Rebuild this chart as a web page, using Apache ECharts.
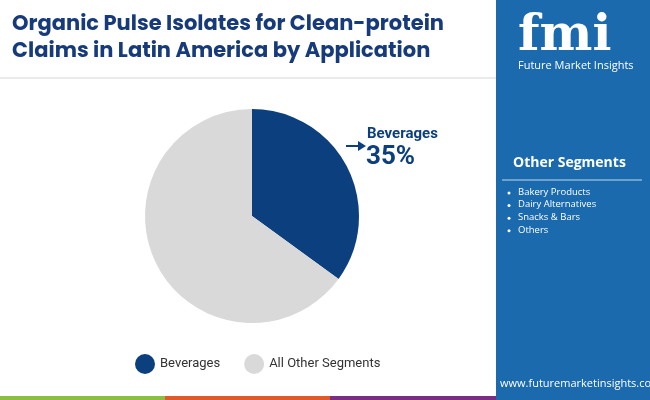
<!DOCTYPE html>
<html><head><meta charset="utf-8">
<script src="https://cdn.jsdelivr.net/npm/echarts@6/dist/echarts.min.js"></script>
<style>html,body{margin:0;padding:0;background:#fff}#c{width:650px;height:400px}</style>
</head><body><div id="c"></div>
<script>
const categories = ['Beverages', 'All Other Segments'];
const values = [35, 65];
const colors = ['#0c3f7d', '#d9d9d9'];
const otherSegments = ['Bakery Products', 'Dairy Alternatives', 'Snacks & Bars', 'Others'];

const chart = echarts.init(document.getElementById('c'));
const graphics = [
  {type:'rect', shape:{x:496,y:0,width:154,height:400}, style:{fill:'#1a6aad'}},
  {type:'text', left:12, top:11, style:{text:'Organic Pulse Isolates for Clean-protein\nClaims in Latin America by Application', font:'bold 21px Poppins, "Open Sans", sans-serif', fill:'#173b7a', lineHeight:27}},
  {type:'line', shape:{x1:0,y1:78,x2:496,y2:78}, style:{stroke:'#d6d6d6',lineWidth:1}},
  {type:'text', left:518, top:12, style:{text:'fmi', font:'bold 50px "DejaVu Serif", serif', fill:'#ffffff'}},
  {type:'text', left:518, top:60, style:{text:'Future Market Insights', font:'11px "Open Sans", sans-serif', fill:'#ffffff'}},
  {type:'text', left:513, top:156, style:{text:'Other Segments', font:'bold 14px "Open Sans", sans-serif', fill:'#ffffff'}},
  {type:'line', shape:{x1:502,y1:180,x2:642,y2:180}, style:{stroke:'#8db4d8',lineWidth:1.5}},
  {type:'text', left:500, top:378, style:{text:'www.futuremarketinsights.com', font:'11px "Open Sans", sans-serif', fill:'#ffffff'}},
  {type:'rect', shape:{x:0,y:396,width:165,height:4}, style:{fill:'#8cbf3f'}},
  {type:'rect', shape:{x:165,y:396,width:165,height:4}, style:{fill:'#e05a2a'}},
  {type:'rect', shape:{x:330,y:396,width:166,height:4}, style:{fill:'#7b2d86'}},
  {type:'line', shape:{x1:346,y1:146,x2:360,y2:146}, style:{stroke:'#0c3f7d',lineWidth:2}},
  {type:'polygon', shape:{points:[[358,141],[366,146],[358,151]]}, style:{fill:'#0c3f7d'}},
  {type:'text', left:367, top:127, style:{text:categories[0], font:'bold 15px Roboto, sans-serif', fill:'#0c3f7d'}},
  {type:'text', left:366, top:144, style:{text:values[0]+'%', font:'bold 26px Roboto, sans-serif', fill:'#0c3f7d'}}
];
otherSegments.forEach((s,i)=>{
  graphics.push({type:'circle', shape:{cx:509,cy:193+i*12.6,r:1.5}, style:{fill:'#ffffff'}});
  graphics.push({type:'text', left:518, top:187+i*12.6, style:{text:s, font:'9.5px "Open Sans", sans-serif', fill:'#ffffff'}});
});
chart.setOption({
  animation:false,
  legend:{left:130, top:349, itemWidth:20, itemHeight:20, itemGap:24, icon:'circle',
    textStyle:{fontSize:13, color:'#333', fontFamily:'Roboto, sans-serif'}, data:categories},
  graphic:graphics,
  series:[{type:'pie', center:[252,216], radius:[0,107], startAngle:90, clockwise:true,
    label:{show:false}, labelLine:{show:false}, silent:true,
    data:categories.map((c,i)=>({name:c, value:values[i], itemStyle:{color:colors[i]}}))}]
});
</script></body></html>
